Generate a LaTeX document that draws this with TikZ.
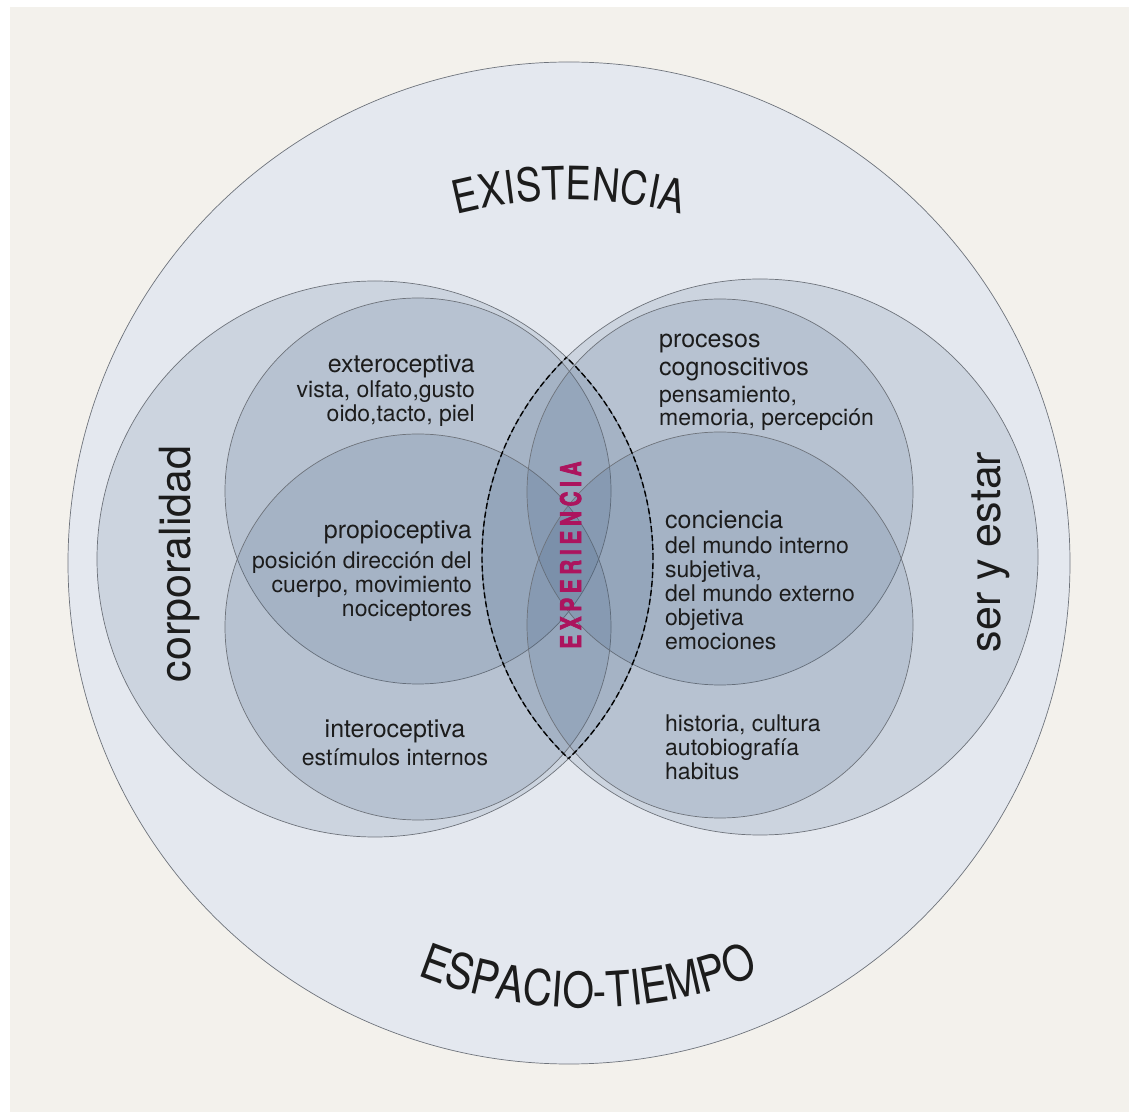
\documentclass[tikz,border=0pt]{standalone}
\usepackage{fontspec}
\setmainfont{TeX Gyre Heros}
\newfontfamily\titlefont[FakeStretch=0.83]{TeX Gyre Heros}
\newfontfamily\expfont[FakeStretch=0.72, BoldFeatures={FakeBold=2.5}]{TeX Gyre Heros}
\usetikzlibrary{positioning, decorations.text}

\definecolor{paper}{HTML}{F3F1EC}
\definecolor{world}{HTML}{E4E8EF}
\definecolor{slate}{RGB}{45,80,120}
\definecolor{rim}{HTML}{6E737B}
\definecolor{wine}{RGB}{172,20,94}
\definecolor{ink}{HTML}{1C1C1C}

\newcommand{\ttl}{\titlefont\fontsize{46}{50}\selectfont}
\newcommand{\ttlb}{\titlefont\fontsize{49}{52}\selectfont}
\newcommand{\hd}{\fontsize{25}{26}\selectfont\rule{0pt}{18pt}}
\newcommand{\topline}{\rule{0pt}{18pt}}

\begin{document}
\begin{tikzpicture}[x=1pt, y=1pt,
    ring/.style={circle, draw=rim, line width=0.7pt, fill=slate, fill opacity=0.13, inner sep=0pt, minimum size=#1},
    lens/.style={draw=black, line width=1.4pt, dash pattern=on 6pt off 3pt},
    blk/.style={inner sep=0pt, text=ink, font=\fontsize{23}{24}\selectfont},
    vert/.style={rotate=90, anchor=base, inner sep=0pt, text=ink, font=\fontsize{43}{45}\selectfont}]
            \useasboundingbox (0,0) rectangle (1138,1112);
            \fill[white] (0,0) rectangle (1138,1112);
            \fill[paper] (10,0) rectangle (1129,1105);

            \node[circle, draw=rim, line width=0.7pt, fill=world, inner sep=0pt, minimum size=1002pt] (world) at (569,549) {};

            \node[ring=556pt] (bigL) at (375,553) {};
            \node[ring=556pt] (bigR) at (760,555) {};
            \node[ring=386pt] (extero) at (418,621) {};
            \node[ring=386pt] (intero) at (418,485) {};
            \node[ring=386pt] (cogni) at (720,620) {};
            \node[ring=386pt] (histo) at (720,487) {};

            \begin{scope}
                \clip (bigR.center) circle (278);
                \draw[lens] (bigL.center) circle (278);
            \end{scope}
            \begin{scope}
                \clip (bigL.center) circle (278);
                \draw[lens] (bigR.center) circle (278);
            \end{scope}

            \path[decorate, decoration={text along path, text={|\ttl|EXISTENCIA}, text align=center, text color=ink}]
                (569,462) ++(112:450) arc (112:68:450);
            \path[decorate, decoration={text along path, text={|\ttlb|ESPACIO-TIEMPO}, text align=center, text color=ink}]
                (588,562) ++(232:458) arc (232:308:458);

            \node[vert] (corpo) at (190,548) {corporalidad};
            \node[vert] (ser) at (1000,560) {ser y estar};
            \node[vert, text=wine, font=\expfont\bfseries\fontsize{28.5}{30}\selectfont] (exp) at (581,557)
                {E\kern4.8pt X\kern4.8pt P\kern4.8pt E\kern4.8pt R\kern4.8pt I\kern4.8pt E\kern4.8pt N\kern4.8pt C\kern4.8pt I\kern4.8pt A};

            \node[blk, align=right, anchor=north east] (exteroTxt) at (475,758)
                {{\hd exteroceptiva}\\[1.5pt] vista, olfato,gusto\\ oido,tacto, piel};
            \node[blk, align=right, anchor=north east] (propioTxt) at (472,592)
                {{\hd propioceptiva}\\[6pt] posición dirección del\\ cuerpo, movimiento\\ nociceptores};
            \node[blk, align=center, anchor=north] (interoTxt) at (395,393)
                {{\hd interoceptiva}\\[4pt] estímulos internos};
            \node[blk, align=left, anchor=north west] (cogniTxt) at (659,783)
                {{\hd procesos}\\[4pt] {\hd cognoscitivos}\\[3pt] pensamiento,\\[-1pt] memoria, percepción};
            \node[blk, align=left, anchor=north west] (concTxt) at (665,602)
                {{\hd conciencia}\\[1pt] del mundo interno\\ subjetiva,\\ del mundo externo\\ objetiva\\ emociones};
            \node[blk, align=left, anchor=north west] (histoTxt) at (665,399)
                {\topline historia, cultura\\ autobiografía\\ habitus};
\end{tikzpicture}
\end{document}
